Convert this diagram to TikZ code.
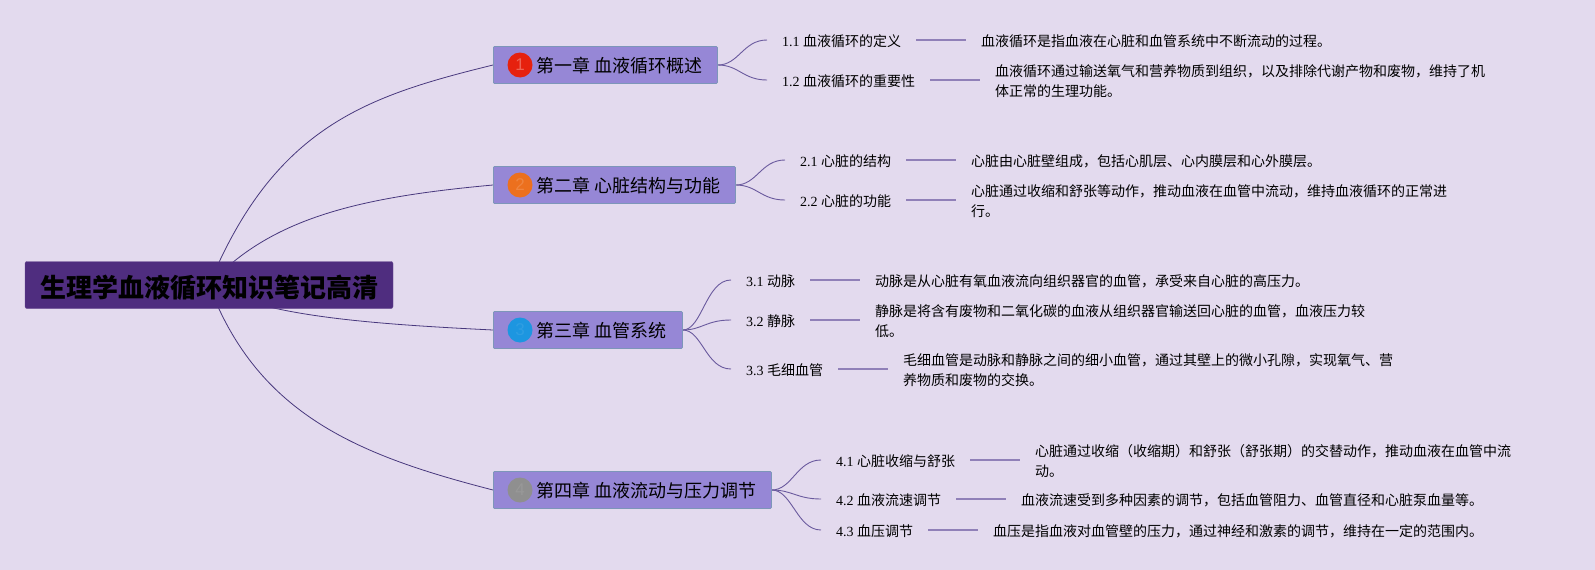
\documentclass[tikz,border=0pt]{standalone}
\usepackage{fontspec}
\setmainfont{Liberation Serif}
\newfontfamily\cjk{Noto Sans CJK SC}
\newfontfamily\badgefont{Liberation Sans}
\usetikzlibrary{positioning,backgrounds}
\definecolor{pagebg}{RGB}{227,218,238}
\definecolor{rootfill}{RGB}{79,45,127}
\definecolor{chapfill}{RGB}{150,135,214}
\definecolor{chapline}{RGB}{125,150,185}
\definecolor{curvedark}{RGB}{72,56,125}
\definecolor{curvesub}{RGB}{106,90,158}
\definecolor{linesub}{RGB}{144,128,184}
\definecolor{badgered}{RGB}{230,33,14}
\definecolor{badgeorange}{RGB}{236,112,30}
\definecolor{badgeblue}{RGB}{29,150,224}
\definecolor{badgegrey}{RGB}{143,143,143}

\begin{document}
\begin{tikzpicture}[
  x=1pt, y=-1pt,
  root/.style={draw=rootfill!85!white, fill=rootfill, rounded corners=2pt, minimum width=368pt, minimum height=47pt, inner sep=0pt, text height=26pt, text depth=2pt, font=\cjk\bfseries\fontsize{26}{30}\selectfont},
  chap/.style={draw=chapline, line width=0.8pt, fill=chapfill, rounded corners=1pt, minimum height=37pt, inner sep=0pt, anchor=west},
  chaptext/.style={anchor=west, inner sep=0pt, yshift=-1pt, font=\cjk\fontsize{18}{21}\selectfont},
  badge/.style={circle, minimum size=25pt, inner sep=0pt, font=\badgefont\fontsize{17}{20}\selectfont},
  sub/.style={anchor=west, inner xsep=15pt, inner ysep=0pt, outer sep=0pt, text height=13pt, text depth=1pt, font=\fontsize{14}{17}\selectfont},
  desc/.style={inner xsep=15pt, inner ysep=0pt, outer sep=0pt, yshift=-1.5pt, align=left, font=\cjk\fontsize{14}{20}\selectfont},
  trunk/.style={draw=curvedark, line width=0.8pt},
  twig/.style={draw=curvesub, line width=0.9pt},
  stem/.style={draw=linesub, line width=1.3pt}
]
\useasboundingbox (0,0) rectangle (1595,570);

\node[root] (title) at (209,285) {生理学血液循环知识笔记高清};

% chapters
\node[chap, minimum width=224pt] (c1) at (493,65) {};
\node[chap, minimum width=242pt] (c2) at (493,185) {};
\node[chap, minimum width=189pt] (c3) at (493,330) {};
\node[chap, minimum width=278pt] (c4) at (493,490) {};
\node[badge, fill=badgered, text=badgered!70!white] (b1) at (520,65) {1};
\node[badge, fill=badgeorange, text=badgeorange!85!white] (b2) at (520,185) {2};
\node[badge, fill=badgeblue, text=badgeblue!92!white] (b3) at (520,330) {3};
\node[badge, fill=badgegrey, text=badgegrey!92!white] (b4) at (520,490) {4};
\node[chaptext] (t1) at (536,65) {第一章 血液循环概述};
\node[chaptext] (t2) at (536,185) {第二章 心脏结构与功能};
\node[chaptext] (t3) at (536,330) {第三章 血管系统};
\node[chaptext] (t4) at (536,490) {第四章 血液流动与压力调节};

% sections
\node[sub] (s11) at (767,40) {1.1 {\cjk 血液循环的定义}};
\node[sub] (s12) at (767,80) {1.2 {\cjk 血液循环的重要性}};
\node[sub] (s21) at (785,160) {2.1 {\cjk 心脏的结构}};
\node[sub] (s22) at (785,200) {2.2 {\cjk 心脏的功能}};
\node[sub] (s31) at (731,280) {3.1 {\cjk 动脉}};
\node[sub] (s32) at (731,320) {3.2 {\cjk 静脉}};
\node[sub] (s33) at (731,369) {3.3 {\cjk 毛细血管}};
\node[sub] (s41) at (821,460) {4.1 {\cjk 心脏收缩与舒张}};
\node[sub] (s42) at (821,499) {4.2 {\cjk 血液流速调节}};
\node[sub] (s43) at (821,530) {4.3 {\cjk 血压调节}};

% notes
\node[desc, right=50pt of s11] (d11) {血液循环是指血液在心脏和血管系统中不断流动的过程。};
\node[desc, right=50pt of s12] (d12) {血液循环通过输送氧气和营养物质到组织，以及排除代谢产物和废物，维持了机\\体正常的生理功能。};
\node[desc, right=50pt of s21] (d21) {心脏由心脏壁组成，包括心肌层、心内膜层和心外膜层。};
\node[desc, right=50pt of s22] (d22) {心脏通过收缩和舒张等动作，推动血液在血管中流动，维持血液循环的正常进\\行。};
\node[desc, right=50pt of s31] (d31) {动脉是从心脏有氧血液流向组织器官的血管，承受来自心脏的高压力。};
\node[desc, right=50pt of s32] (d32) {静脉是将含有废物和二氧化碳的血液从组织器官输送回心脏的血管，血液压力较\\低。};
\node[desc, right=50pt of s33] (d33) {毛细血管是动脉和静脉之间的细小血管，通过其壁上的微小孔隙，实现氧气、营\\养物质和废物的交换。};
\node[desc, right=50pt of s41] (d41) {心脏通过收缩（收缩期）和舒张（舒张期）的交替动作，推动血液在血管中流\\动。};
\node[desc, right=50pt of s42] (d42) {血液流速受到多种因素的调节，包括血管阻力、血管直径和心脏泵血量等。};
\node[desc, right=50pt of s43] (d43) {血压是指血液对血管壁的压力，通过神经和激素的调节，维持在一定的范围内。};

\begin{scope}[on background layer]
\fill[pagebg] (0,0) rectangle (1595,570);
\draw[trunk] (title.center) .. controls (275,126) and (367,96) .. (c1.west);
\draw[trunk] (title.center) .. controls (271,217) and (362,197) .. (c2.west);
\draw[trunk] (title.center) .. controls (262,316) and (370,324) .. (c3.west);
\draw[trunk] (title.center) .. controls (258,416) and (361,456) .. (c4.west);
\draw[twig] (c1.east) .. controls (739,65) and (743,40) .. (s11.west);
\draw[twig] (c1.east) .. controls (739,65) and (743,80) .. (s12.west);
\draw[twig] (c2.east) .. controls (757,185) and (761,160) .. (s21.west);
\draw[twig] (c2.east) .. controls (757,185) and (761,200) .. (s22.west);
\draw[twig] (c3.east) .. controls (702,330) and (706,280) .. (s31.west);
\draw[twig] (c3.east) .. controls (702,330) and (706,320) .. (s32.west);
\draw[twig] (c3.east) .. controls (702,330) and (706,369) .. (s33.west);
\draw[twig] (c4.east) .. controls (792,490) and (797,460) .. (s41.west);
\draw[twig] (c4.east) .. controls (792,490) and (797,499) .. (s42.west);
\draw[twig] (c4.east) .. controls (792,490) and (797,530) .. (s43.west);
\end{scope}

\draw[stem] (s11.east) -- (s11 -| d11.west);
\draw[stem] (s12.east) -- (s12 -| d12.west);
\draw[stem] (s21.east) -- (s21 -| d21.west);
\draw[stem] (s22.east) -- (s22 -| d22.west);
\draw[stem] (s31.east) -- (s31 -| d31.west);
\draw[stem] (s32.east) -- (s32 -| d32.west);
\draw[stem] (s33.east) -- (s33 -| d33.west);
\draw[stem] (s41.east) -- (s41 -| d41.west);
\draw[stem] (s42.east) -- (s42 -| d42.west);
\draw[stem] (s43.east) -- (s43 -| d43.west);
\end{tikzpicture}
\end{document}
